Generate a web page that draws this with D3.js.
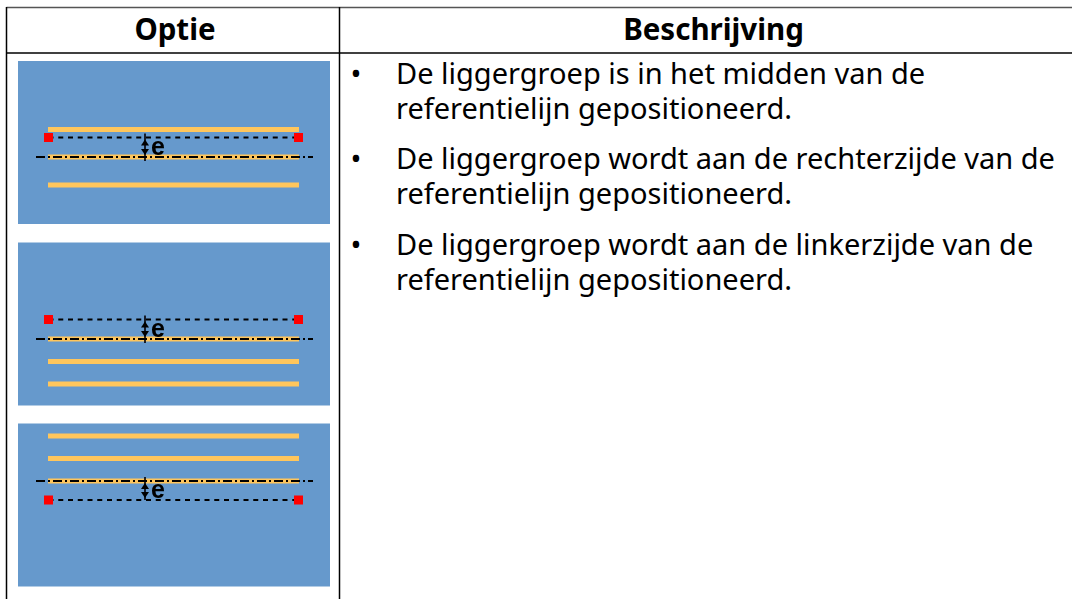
<!DOCTYPE html>
<html>
<head>
<meta charset="utf-8">
<script src="https://cdn.jsdelivr.net/npm/d3@7"></script>
<style>
html, body { margin: 0; padding: 0; background: #fff; overflow: hidden; }
svg { display: block; }
text { font-family: "Noto Sans", sans-serif; fill: #000; }
#chart { position: relative; width: 1072px; height: 599px; }
.item { position: absolute; left: 396px; font: 29px/35px "Noto Sans", sans-serif; color: #000; white-space: pre; }
</style>
</head>
<body>
<div id="chart"></div>
<script>
// Tabelinhoud
const headers = ['Optie', 'Beschrijving'];
const bullets = [
    ['De liggergroep is in het midden van de', 'referentielijn gepositioneerd.'],
    ['De liggergroep wordt aan de rechterzijde van de', 'referentielijn gepositioneerd.'],
    ['De liggergroep wordt aan de linkerzijde van de', 'referentielijn gepositioneerd.']
];

const beams = [[68.5, 96, 124], [96.5, 119, 141.5], [12.5, 35, 57.5]];
const axisLines = [96, 96.5, 57.5];
const dashedLines = [76.5, 77, 76.5];

const width = 1072, height = 599;
const chart = d3.select('#chart');
const svg = chart.append('svg').attr('width', width).attr('height', height);

svg.append('defs').append('filter').attr('id', 'soft')
    .append('feGaussianBlur').attr('stdDeviation', 0.5);

// Tabelraster
const grid = svg.append('g').attr('stroke', '#000').attr('stroke-width', 1.5);
grid.append('line').attr('x1', 6.5).attr('x2', width).attr('y1', 7.5).attr('y2', 7.5).attr('stroke', '#555');
grid.append('line').attr('x1', 6.5).attr('x2', width).attr('y1', 53).attr('y2', 53);
grid.append('line').attr('x1', 6.5).attr('x2', 6.5).attr('y1', 7).attr('y2', height);
grid.append('line').attr('x1', 339.5).attr('x2', 339.5).attr('y1', 7).attr('y2', height);

// Kopteksten
const headerX = [175, 713.5];
svg.selectAll('.head').data(headers).enter().append('text')
    .attr('class', 'head')
    .attr('x', (d, i) => headerX[i])
    .attr('y', 39.5)
    .attr('text-anchor', 'middle')
    .attr('font-size', 29.5)
    .attr('font-weight', 700)
    .text(d => d);

// Diagrammen
const panelTops = [61, 242.5, 423.5];
const x = d3.scaleLinear().domain([0, 312]).range([18, 330]);
const y = d3.scaleLinear().domain([0, 163]).range([0, 163]);
const beamX = [30, 281];
const axisX = [18, 295];
const squareX = [30.5, 280.5];
const arrowX = 127;

const panels = svg.selectAll('.panel').data(d3.range(3)).enter().append('g')
    .attr('class', 'panel')
    .attr('transform', i => 'translate(0,' + panelTops[i] + ')')
    .attr('filter', 'url(#soft)');

panels.append('rect')
    .attr('x', x(0)).attr('y', y(0))
    .attr('width', x(312) - x(0)).attr('height', y(163))
    .attr('fill', '#6699cc');

panels.selectAll('.beam').data(i => beams[i]).enter().append('line')
    .attr('class', 'beam')
    .attr('x1', x(beamX[0])).attr('x2', x(beamX[1]))
    .attr('y1', d => y(d)).attr('y2', d => y(d))
    .attr('stroke', '#ffc65c').attr('stroke-width', 5);

panels.append('line')
    .attr('x1', x(axisX[0])).attr('x2', x(axisX[1]))
    .attr('y1', i => y(axisLines[i])).attr('y2', i => y(axisLines[i]))
    .attr('stroke', '#000').attr('stroke-width', 2)
    .attr('stroke-dasharray', '9 3 2 3');

panels.append('line')
    .attr('x1', x(squareX[0])).attr('x2', x(squareX[1]))
    .attr('y1', i => y(dashedLines[i])).attr('y2', i => y(dashedLines[i]))
    .attr('stroke', '#000').attr('stroke-width', 2)
    .attr('stroke-dasharray', '5 4.75');

panels.selectAll('.sq').data(i => squareX.map(s => ({ s, v: dashedLines[i] }))).enter().append('rect')
    .attr('class', 'sq')
    .attr('x', d => x(d.s) - 4.5).attr('y', d => y(d.v) - 4.5)
    .attr('width', 9).attr('height', 9)
    .attr('fill', '#ff0000');

// Maat e
panels.append('line')
    .attr('x1', x(arrowX)).attr('x2', x(arrowX))
    .attr('y1', i => y(Math.min(dashedLines[i], axisLines[i])) - 4)
    .attr('y2', i => y(Math.max(dashedLines[i], axisLines[i])) + (i === 2 ? 0 : 4))
    .attr('stroke', '#000').attr('stroke-width', 1.6);

panels.each(function (i) {
    const top = Math.min(dashedLines[i], axisLines[i]), bottom = Math.max(dashedLines[i], axisLines[i]);
    const g = d3.select(this);
    const px = x(arrowX);
    g.append('path').attr('d', d3.line()([[px - 4, y(top) + 8], [px + 4, y(top) + 8], [px, y(top) + 2]])).attr('fill', '#000');
    g.append('path').attr('d', d3.line()([[px - 4, y(bottom) - 8], [px + 4, y(bottom) - 8], [px, y(bottom) - 2]])).attr('fill', '#000');
    g.append('text')
        .attr('x', px + 6).attr('y', y(bottom) - 2.5)
        .attr('font-size', 25).attr('font-weight', 700)
        .style('font-family', 'Liberation Sans')
        .text('e');
});

// Beschrijving met opsommingstekens
const bulletY = [84, 169, 255];
svg.selectAll('.dot').data(bulletY).enter().append('text')
    .attr('class', 'dot')
    .attr('x', 350.5).attr('y', d => d)
    .attr('font-size', 29).text('•');

// HTML-blok, want de regelafstand (35px) is kleiner dan de lettergrootte toelaat in svg
chart.selectAll('.item').data(bullets).enter().append('div')
    .attr('class', 'item')
    .style('top', (d, i) => (bulletY[i] - 29) + 'px')
    .text(d => d.join('\n'));
</script>
</body>
</html>
